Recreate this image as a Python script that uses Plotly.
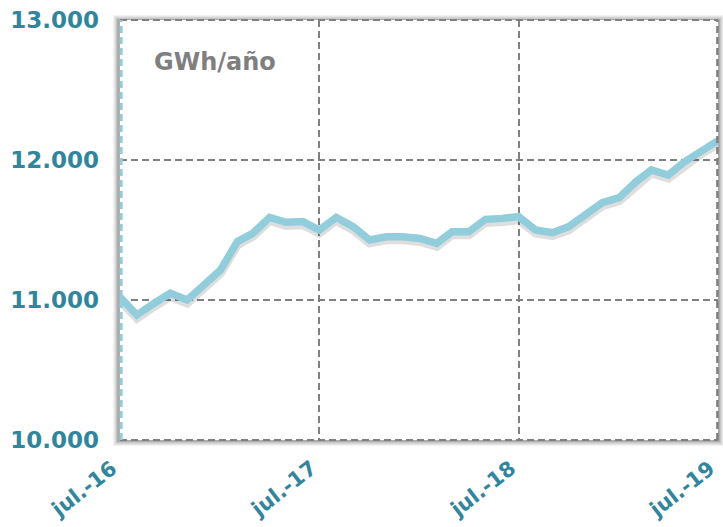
import plotly.graph_objects as go
import pandas as pd

dates = pd.date_range("2016-07-01", "2019-07-01", freq="MS")
values = [11020, 10893, 10975, 11048, 11000, 11107, 11214, 11417, 11476, 11590,
          11555, 11560, 11500, 11590, 11524, 11429, 11452, 11452, 11440, 11405,
          11488, 11488, 11576, 11583, 11595, 11500, 11481, 11524, 11619, 11695,
          11731, 11845, 11929, 11893, 11988, 12067, 12138]
tick_dates = ["2016-07-01", "2017-07-01", "2018-07-01", "2019-07-01"]
tick_text = ["jul.-16", "jul.-17", "jul.-18", "jul.-19"]
y_ticks = [10000, 11000, 12000, 13000]
unit_label = "GWh/año"

TEAL = "#31859C"
LINE = "#92CDDC"
FONT = "DejaVu Sans"
YR = [10000, 13000]
SH = 22  # shadow offset in data units (~3px)

fig = go.Figure()
fig.add_trace(go.Scatter(x=dates, y=values, mode="lines",
                         line=dict(color="rgba(0,0,0,0)", width=1),
                         hoverinfo="skip", showlegend=False))
fig.add_trace(go.Scatter(x=dates, y=values, mode="lines", yaxis="y2",
                         line=dict(color="rgba(0,0,0,0.13)", width=9),
                         hoverinfo="skip", showlegend=False))
fig.add_trace(go.Scatter(x=dates, y=values, mode="lines", yaxis="y3",
                         line=dict(color=LINE, width=7.5), showlegend=False))

W, H = 598.0, 420.0
shapes = []
for i, op in enumerate([0.05, 0.07, 0.10, 0.14]):
    d = 6 - i * 1.3
    shapes.append(dict(type="rect", xref="paper", yref="paper", layer="below",
                       x0=-(d + 1) / W, x1=1 + d / W, y0=-(d) / H, y1=1 + (d - 1) / H,
                       line=dict(width=0), fillcolor=f"rgba(0,0,0,{op})"))
shapes.append(dict(type="rect", xref="paper", yref="paper", layer="below",
                   x0=0, x1=1, y0=0, y1=1, line=dict(width=0), fillcolor="white"))
shapes.append(dict(type="line", xref="paper", yref="paper", x0=0.999, x1=0.999, y0=0, y1=1,
                   line=dict(color="#808080", width=2.5, dash="7px,4px"), layer="above"))
shapes.append(dict(type="line", xref="paper", yref="paper", x0=0, x1=1, y0=0, y1=0,
                   line=dict(color="#808080", width=2, dash="7px,4px"), layer="above"))
shapes.append(dict(type="line", xref="paper", yref="paper", x0=0, x1=1, y0=1, y1=1,
                   line=dict(color="#808080", width=2, dash="7px,4px"), layer="above"))
shapes.append(dict(type="line", xref="paper", yref="paper", x0=0.002, x1=0.002, y0=0, y1=1,
                   line=dict(color=LINE, width=3, dash="7px,4px"), layer="above"))

x_end = dates[-1] + pd.Timedelta(hours=1)

annotations = [dict(text=unit_label, xref="paper", yref="paper", x=0.053, y=0.9,
                    xanchor="left", yanchor="middle", showarrow=False,
                    font=dict(family=FONT, size=24, color="#7F7F7F", weight="bold"))]
# rotated x tick labels, top-right corner at each tick
for d, t in zip(tick_dates, tick_text):
    annotations.append(dict(text=t, xref="x", yref="paper", x=d, y=-0.036,
                            xanchor="right", yanchor="top", showarrow=False,
                            textangle=-38, borderpad=0, xshift=3,
                            font=dict(family=FONT, size=21, color=TEAL, weight="bold")))

fig.update_layout(
    width=723, height=527,
    margin=dict(l=120, r=5, t=20, b=87),
    paper_bgcolor="white",
    plot_bgcolor="rgba(0,0,0,0)",
    separators=",.",
    shapes=shapes,
    xaxis=dict(range=[dates[0], x_end], tickvals=tick_dates, ticktext=tick_text,
               showticklabels=False, showgrid=True, gridcolor="#808080", gridwidth=1.5,
               griddash="7px,4px", zeroline=False, showline=False, ticks="",
               automargin=False),
    yaxis=dict(range=YR, tickvals=y_ticks, tickformat=",.0f",
               showgrid=True, gridcolor="#808080", gridwidth=1.5, griddash="7px,4px",
               zeroline=False, showline=False, ticks="", ticklabelstandoff=20,
               automargin=False,
               tickfont=dict(family=FONT, size=23, color=TEAL, weight="bold")),
    yaxis2=dict(range=[YR[0] + SH, YR[1] + SH], overlaying="y", visible=False),
    yaxis3=dict(range=YR, overlaying="y", visible=False),
    annotations=annotations,
)

fig.write_html("out.html", config={"displayModeBar": False},
               post_script="document.body.style.margin='0';")
